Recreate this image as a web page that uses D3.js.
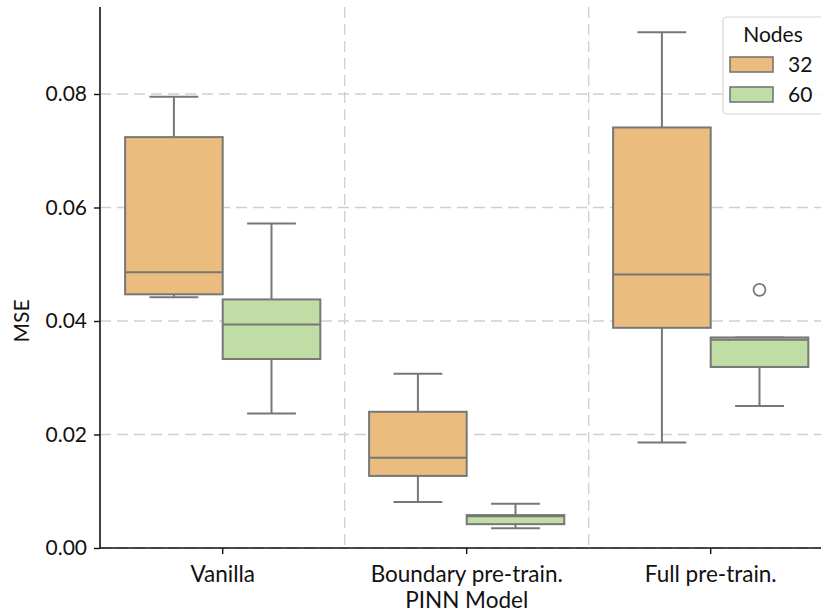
<!DOCTYPE html>
<html>
<head>
<meta charset="utf-8">
<script src="https://cdn.jsdelivr.net/npm/d3@7"></script>
<style>
  html, body { margin: 0; padding: 0; background: #fff; }
  svg text { font-family: "Lato", "Open Sans", sans-serif; fill: #111; }
</style>
</head>
<body>
<svg id="chart" width="821" height="614"></svg>
<script>
// Model variants on the x axis and hidden-layer widths as hue groups
const models = ["Vanilla", "Boundary pre-train.", "Full pre-train."];
const nodes = ["32", "60"];

// Five-number summaries per model (whisker low, Q1, median, Q3, whisker high)
const whiskerLow32  = [0.0442, 0.0081, 0.0186];
const q1_32         = [0.0447, 0.0127, 0.0388];
const median32      = [0.0486, 0.0159, 0.0482];
const q3_32         = [0.0724, 0.0240, 0.0741];
const whiskerHigh32 = [0.0795, 0.0307, 0.0909];

const whiskerLow60  = [0.0237, 0.0035, 0.0250];
const q1_60         = [0.0333, 0.0042, 0.0319];
const median60      = [0.0394, 0.0056, 0.0367];
const q3_60         = [0.0438, 0.0058, 0.0371];
const whiskerHigh60 = [0.0572, 0.0078, 0.0371];

// Outliers beyond the whiskers: [model index, value]
const outliers32 = [];
const outliers60 = [[2, 0.0455]];

const yTicks = [0, 0.02, 0.04, 0.06, 0.08];
const colors = ["#eabc7e", "#c1dda6"];
const edge = "#777777";

const svg = d3.select("#chart");

const x = d3.scaleBand().domain(models).range([100.7, 832.7]).paddingInner(0).paddingOuter(0);
const hue = d3.scaleBand().domain(nodes).range([0, x.bandwidth() * 0.8]);
const y = d3.scaleLinear().domain([0, 0.09533]).range([548, 7]);

// Gridlines
const grid = svg.append("g").attr("stroke", "#cfcfcf").attr("stroke-width", 1.3).attr("stroke-dasharray", "11,6");
grid.selectAll("line.h").data(yTicks).join("line")
  .attr("x1", 100).attr("x2", 821)
  .attr("y1", d => y(d)).attr("y2", d => y(d));
grid.selectAll("line.v").data(models.slice(1)).join("line")
  .attr("x1", d => x(d)).attr("x2", d => x(d))
  .attr("y1", 7).attr("y2", 548);

// Assemble box records per hue
function records(key, lo, a, m, b, hi, outs) {
  return models.map((mdl, i) => ({
    model: mdl, node: key, lo: lo[i], q1: a[i], med: m[i], q3: b[i], hi: hi[i],
    outs: outs.filter(o => o[0] === i).map(o => o[1])
  }));
}
const boxes = records("32", whiskerLow32, q1_32, median32, q3_32, whiskerHigh32, outliers32)
  .concat(records("60", whiskerLow60, q1_60, median60, q3_60, whiskerHigh60, outliers60));

const offset = x.bandwidth() * 0.1;
const bw = hue.bandwidth();
const gBox = svg.append("g");
boxes.forEach(d => {
  const x0 = x(d.model) + offset + hue(d.node);
  const cx = x0 + bw / 2;
  const g = gBox.append("g").attr("stroke", edge).attr("stroke-width", 2).attr("fill", "none");
  // whiskers
  g.append("line").attr("x1", cx).attr("x2", cx).attr("y1", y(d.q3)).attr("y2", y(d.hi));
  g.append("line").attr("x1", cx).attr("x2", cx).attr("y1", y(d.q1)).attr("y2", y(d.lo));
  g.append("line").attr("x1", cx - bw / 4).attr("x2", cx + bw / 4).attr("y1", y(d.hi)).attr("y2", y(d.hi));
  g.append("line").attr("x1", cx - bw / 4).attr("x2", cx + bw / 4).attr("y1", y(d.lo)).attr("y2", y(d.lo));
  // box
  g.append("rect").attr("x", x0).attr("y", y(d.q3))
    .attr("width", bw).attr("height", y(d.q1) - y(d.q3))
    .attr("fill", colors[nodes.indexOf(d.node)]);
  // median
  g.append("line").attr("x1", x0).attr("x2", x0 + bw).attr("y1", y(d.med)).attr("y2", y(d.med));
  // outliers
  d.outs.forEach(v => {
    g.append("circle").attr("cx", cx).attr("cy", y(v)).attr("r", 6)
      .attr("fill", "#fff").attr("stroke-width", 1.8);
  });
});

// Axes
const yAxis = d3.axisLeft(y).tickValues(yTicks).tickFormat(d3.format(".2f")).tickSize(6).tickPadding(7);
const gy = svg.append("g").attr("transform", "translate(100,0)").call(yAxis);
gy.select(".domain").attr("d", "M0,7V548").attr("stroke", "#111").attr("stroke-width", 1.6);
gy.selectAll(".tick line").attr("stroke", "#111").attr("stroke-width", 1.4);
gy.selectAll(".tick text").attr("font-size", 21).style("fill", "#111");

const xAxis = d3.axisBottom(x).tickSize(6).tickPadding(12);
const gx = svg.append("g").attr("transform", "translate(0,548)").call(xAxis);
gx.select(".domain").attr("d", "M100,0H821").attr("stroke", "#111").attr("stroke-width", 1.6);
gx.selectAll(".tick line").attr("stroke", "#111").attr("stroke-width", 1.4);
gx.selectAll(".tick text").attr("font-size", 22.5).style("fill", "#111");

// Axis titles
svg.append("text").attr("x", 466.7).attr("y", 608).attr("text-anchor", "middle")
  .attr("font-size", 22.5).text("PINN Model");
svg.append("text").attr("transform", "translate(29,321) rotate(-90)").attr("text-anchor", "middle")
  .attr("font-size", 21).text("MSE");

// Legend
const lg = svg.append("g").attr("transform", "translate(723,17)");
lg.append("rect").attr("x", 0).attr("y", 0).attr("width", 110).attr("height", 97).attr("rx", 4)
  .attr("fill", "rgba(255,255,255,0.85)").attr("stroke", "#d6d6d6").attr("stroke-width", 1.2);
lg.append("text").attr("x", 50).attr("y", 24.5).attr("text-anchor", "middle").attr("font-size", 21).text("Nodes");
nodes.forEach((n, i) => {
  const yy = 40 + i * 30;
  lg.append("rect").attr("x", 7).attr("y", yy).attr("width", 43).attr("height", 15)
    .attr("fill", colors[i]).attr("stroke", edge).attr("stroke-width", 1.6);
  lg.append("text").attr("x", 65).attr("y", yy + 15).attr("font-size", 21).text(n);
});
</script>
</body>
</html>
